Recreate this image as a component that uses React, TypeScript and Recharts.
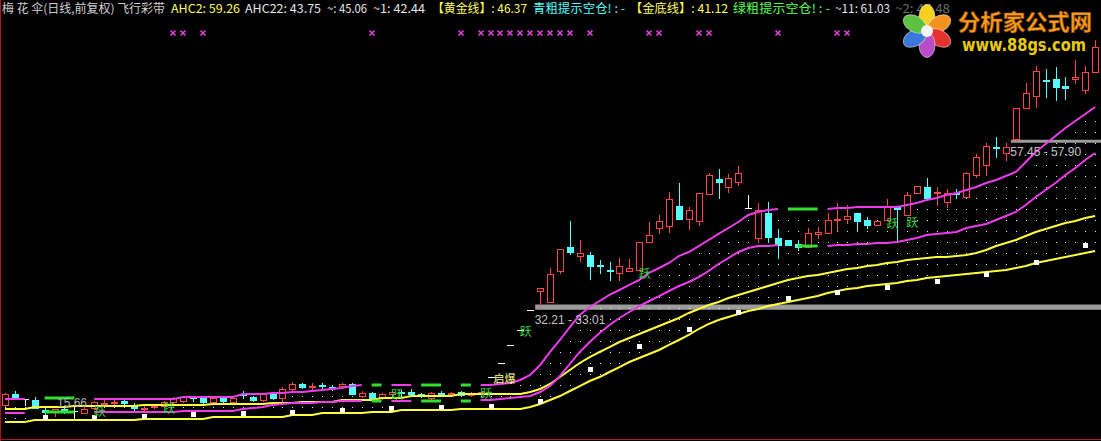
import React from 'react';
import { ComposedChart, XAxis, YAxis, Bar, Line, ReferenceArea } from 'recharts';

// ---------- data ----------
const OPEN = [
  17.84, 19.51, 18.75, 18.60, 17.09, 16.79, 17.24, 16.94, 16.64, 17.39,
  17.99, 18.15, 18.45, 17.69, 17.24, 17.54, 17.69, 18.30, 18.45, 19.05,
  18.90, 18.30, 18.90, 18.30, 19.51, 19.05, 18.60, 19.51, 18.90, 20.26,
  21.02, 20.56, 20.87, 20.56, 20.71, 21.02, 19.20, 19.66, 18.90, 19.51,
  19.81, 19.81, 19.51, 18.90, 19.66, 19.51, 19.81, 19.36, 19.74, 22.07,
  24.19, 26.91, 29.17, 32.21, 35.06, 33.40, 38.08, 41.70, 40.34, 40.50,
  38.99, 38.23, 37.78, 38.08, 38.23, 42.46, 44.57, 44.87, 47.89, 45.93,
  45.63, 49.71, 51.97, 50.76, 51.52, 47.59, 43.06, 46.84, 43.06, 42.76,
  42.16, 41.70, 43.67, 43.82, 45.78, 45.93, 46.84, 45.78, 45.03, 45.78,
  47.89, 46.54, 49.86, 50.76, 49.86, 48.50, 49.86, 49.25, 52.58, 54.09,
  56.80, 55.90, 58.01, 62.69, 64.50, 66.92, 67.07, 66.01, 67.07, 65.41,
  68.13,
];
const HIGH = [
  19.66, 19.96, 18.75, 19.05, 17.54, 17.24, 17.54, 17.54, 17.69, 18.45,
  18.60, 18.60, 18.75, 18.15, 17.69, 17.84, 18.45, 19.05, 19.20, 19.05,
  19.05, 19.05, 19.20, 19.05, 19.96, 19.20, 19.66, 19.81, 20.56, 21.32,
  21.17, 21.17, 21.17, 20.87, 21.17, 21.17, 19.96, 19.81, 19.66, 19.96,
  20.11, 20.26, 19.66, 19.81, 19.96, 19.81, 19.96, 19.81, 19.81, 22.07,
  24.19, 26.91, 29.17, 32.21, 35.51, 38.53, 41.40, 45.63, 42.76, 40.95,
  39.74, 39.44, 40.04, 39.89, 42.46, 45.48, 46.54, 50.01, 51.37, 47.74,
  49.86, 52.88, 53.48, 52.73, 53.93, 49.56, 48.35, 48.50, 44.42, 42.76,
  42.76, 44.57, 44.72, 46.84, 48.35, 48.05, 46.84, 46.23, 45.63, 48.95,
  47.89, 50.01, 50.91, 52.12, 50.76, 50.46, 50.46, 53.03, 55.75, 57.41,
  58.31, 57.45, 62.69, 66.47, 69.03, 68.58, 68.88, 67.37, 69.94, 69.03,
  72.96,
];
const LOW = [
  17.69, 18.75, 17.84, 17.39, 16.49, 16.18, 16.64, 15.66, 16.64, 17.24,
  17.69, 17.69, 17.84, 17.09, 17.09, 17.39, 17.54, 18.15, 18.30, 18.45,
  18.15, 18.15, 18.30, 18.15, 18.90, 18.45, 18.45, 18.75, 18.30, 20.11,
  20.41, 20.26, 20.41, 20.11, 20.56, 19.51, 19.05, 18.75, 18.75, 19.36,
  19.36, 19.36, 19.05, 18.75, 19.36, 19.36, 19.20, 19.20, 19.74, 22.07,
  24.19, 26.91, 29.17, 32.21, 33.01, 33.40, 37.78, 40.65, 39.59, 36.87,
  37.78, 36.72, 36.72, 38.08, 38.23, 42.46, 43.82, 43.97, 45.93, 44.42,
  45.03, 49.71, 49.10, 50.01, 51.07, 47.59, 42.46, 42.46, 40.04, 42.01,
  41.25, 41.70, 43.06, 43.82, 44.27, 45.33, 44.12, 44.57, 45.03, 45.78,
  42.76, 46.54, 49.86, 49.10, 48.05, 47.74, 49.10, 49.25, 52.27, 52.58,
  55.29, 54.84, 57.90, 62.69, 62.84, 64.35, 63.90, 64.05, 66.47, 64.96,
  68.13,
];
const CLOSE = [
  19.51, 18.90, 18.75, 17.39, 16.79, 17.24, 16.79, 16.94, 17.24, 18.30,
  18.15, 18.30, 18.15, 17.39, 17.39, 17.69, 18.30, 18.90, 19.05, 18.90,
  18.30, 18.90, 18.45, 18.90, 19.36, 18.60, 19.51, 18.90, 20.26, 21.02,
  20.56, 20.71, 20.71, 20.41, 21.02, 19.51, 19.66, 18.75, 19.51, 19.81,
  19.66, 19.51, 19.20, 19.66, 19.51, 19.66, 19.36, 19.66, 19.81, 22.07,
  24.19, 26.91, 29.17, 32.21, 35.51, 37.63, 41.40, 40.95, 40.80, 38.83,
  38.83, 38.08, 38.83, 38.53, 42.46, 43.52, 45.63, 48.95, 45.93, 47.29,
  49.86, 52.58, 51.52, 52.12, 52.88, 47.59, 47.29, 43.21, 42.01, 42.01,
  41.70, 43.82, 43.97, 45.78, 45.93, 46.38, 45.63, 45.03, 45.63, 47.74,
  47.44, 49.56, 50.91, 49.10, 50.01, 49.86, 49.71, 52.88, 55.29, 56.95,
  56.65, 56.80, 62.69, 64.96, 68.28, 66.77, 65.86, 65.71, 67.37, 68.13,
  71.90,
];

// magenta band (upper / lower); null where the line is not drawn
const BAND_UP = [
  18.75, 18.75, 18.75, null, null, null, null, null, null, 18.75,
  18.75, 18.75, 18.75, 18.75, 18.75, 18.75, 18.75, 18.75, 19.05, 19.05,
  19.05, 19.05, 19.05, 19.05, 19.51, 19.51, 19.51, 19.66, 19.66, 19.81,
  19.81, 19.96, 20.11, 20.26, 20.41, 20.71, 20.87, null, null, 20.87,
  20.87, 20.87, null, null, null, null, null, null, 20.87, 20.87,
  21.02, 21.17, 21.62, 22.38, 23.89, 25.85, 27.66, 29.62, 31.44, 32.64,
  33.55, 34.46, 35.21, 35.97, 36.72, 37.78, 38.53, 39.29, 40.34, 40.95,
  41.85, 42.76, 43.67, 44.57, 45.48, 46.54, 46.99, 47.29, 47.44, null,
  null, null, null, 47.44, 47.59, 47.59, 47.74, 47.74, 47.74, 47.74,
  47.74, 48.05, 48.35, 48.80, 49.10, 49.56, 49.86, 50.31, 50.76, 51.37,
  51.82, 52.42, 53.03, 54.54, 56.05, 57.26, 58.46, 59.67, 60.73, 61.79,
  62.84,
];
const BAND_DN = [
  16.64, 16.64, 16.64, null, null, null, null, null, null, 16.79,
  16.79, 16.79, 16.79, 16.79, 16.79, 16.79, 16.79, 16.79, 16.94, 16.94,
  16.94, 16.94, 16.94, 16.94, 17.24, 17.39, 17.54, 17.84, 17.99, 18.15,
  18.15, 18.15, 18.30, 18.30, 18.45, 18.45, 18.45, null, null, 18.45,
  18.45, 18.45, null, null, null, null, null, null, 18.60, 18.60,
  18.75, 18.90, 19.05, 19.20, 19.81, 20.71, 22.22, 24.04, 25.85, 27.36,
  28.72, 29.93, 30.98, 31.89, 32.79, 33.55, 34.30, 35.06, 35.81, 36.42,
  37.17, 38.08, 39.14, 40.04, 40.95, 41.55, 41.85, 41.85, 42.01, null,
  null, null, null, 41.85, 42.01, 42.01, 42.16, 42.16, 42.31, 42.31,
  42.46, 42.76, 43.06, 43.52, 43.67, 43.82, 43.97, 44.57, 44.87, 45.18,
  45.78, 46.38, 46.99, 48.05, 49.25, 50.31, 51.37, 52.58, 53.63, 54.84,
  55.90,
];
// yellow band (upper / lower)
const GOLD_UP = [
  17.24, 17.24, 17.24, 17.54, 17.54, 17.54, 17.54, 17.69, 17.69, 17.69,
  17.69, 17.69, 17.69, 17.69, 17.84, 17.84, 17.84, 17.84, 17.84, 17.84,
  17.84, 17.99, 17.99, 17.99, 17.99, 17.99, 17.99, 18.15, 18.15, 18.15,
  18.30, 18.30, 18.30, 18.30, 18.60, 18.60, 18.60, 18.60, 18.90, 18.90,
  18.90, 19.20, 19.20, 19.20, 19.20, 19.20, 19.51, 19.51, 19.51, 19.51,
  19.51, 19.51, 19.51, 19.81, 20.26, 21.02, 22.07, 23.13, 24.19, 25.09,
  25.85, 26.60, 27.36, 27.96, 28.57, 29.17, 29.77, 30.38, 30.98, 31.74,
  32.34, 32.95, 33.40, 34.00, 34.46, 34.91, 35.36, 35.81, 36.27, 36.72,
  37.02, 37.32, 37.48, 37.78, 38.08, 38.38, 38.53, 38.83, 38.99, 39.29,
  39.44, 39.74, 39.89, 40.04, 40.19, 40.19, 40.34, 40.50, 40.80, 41.25,
  41.85, 42.31, 42.76, 43.36, 43.97, 44.42, 44.87, 45.33, 45.63, 46.08,
  46.38,
];
const GOLD_DN = [
  15.28, 15.28, 15.28, 15.58, 15.58, 15.58, 15.58, 15.58, 15.58, 15.58,
  15.58, 15.58, 15.58, 15.58, 15.73, 15.73, 15.73, 15.73, 15.73, 15.73,
  15.73, 16.03, 16.03, 16.03, 16.03, 16.03, 16.03, 16.03, 16.03, 16.33,
  16.33, 16.33, 16.64, 16.64, 16.64, 16.64, 16.64, 16.79, 16.79, 16.79,
  17.09, 17.09, 17.09, 17.09, 17.09, 17.09, 17.24, 17.24, 17.24, 17.24,
  17.24, 17.24, 17.24, 17.54, 17.99, 18.60, 19.20, 19.96, 20.71, 21.47,
  22.07, 22.83, 23.58, 24.34, 24.94, 25.55, 26.15, 26.91, 27.66, 28.42,
  29.32, 30.08, 30.68, 31.13, 31.59, 32.04, 32.34, 32.79, 33.10, 33.40,
  33.70, 34.00, 34.30, 34.76, 35.06, 35.36, 35.51, 35.81, 35.97, 36.12,
  36.27, 36.57, 36.72, 37.02, 37.17, 37.32, 37.48, 37.63, 37.78, 37.93,
  38.08, 38.23, 38.53, 38.83, 39.29, 39.59, 39.89, 40.19, 40.50, 40.80,
  41.10,
];
// thick green warning segments [index, value]
const WARN_UP: [number, number][] = [
  [4, 18.90], [5, 18.90], [6, 18.90], [7, 18.90],
  [37, 20.87], [38, 20.87], [42, 20.87], [43, 20.87], [44, 20.87], [46, 20.87], [47, 20.87],
  [79, 47.44], [80, 47.44], [81, 47.44], [82, 47.44],
];
const WARN_DN: [number, number][] = [
  [4, 16.79], [5, 16.79], [6, 16.79], [7, 16.79],
  [37, 18.45], [38, 18.45], [42, 18.45], [43, 18.45], [44, 18.45], [46, 18.45], [47, 18.45],
  [80, 41.85], [81, 41.85], [82, 41.85],
];
// white square markers [index, value]
const SQUARES: [number, number][] = [
  [4, 16.03], [9, 16.03], [14, 16.18], [19, 16.49], [24, 16.64], [29, 16.79], [34, 17.09],
  [39, 17.39], [44, 17.54], [49, 17.69], [54, 18.45], [59, 23.28], [64, 26.75], [69, 29.32],
  [74, 31.89], [79, 34.00], [84, 34.91], [89, 35.66], [94, 36.57], [99, 37.63], [104, 39.44], [109, 42.01],
];
// magenta "x" signals along the top
const CROSS_DAYS = [17, 18, 20, 37, 46, 48, 49, 50, 51, 52, 53, 54, 55, 56, 57, 59, 65, 66, 70, 71, 78, 84, 85];
const CROSS_LEVEL = 74.02;
// text tags on the chart
const TAGS = [
  { i: 5, v: 18.15, t: '15.66', kind: 'num' },
  { i: 9, v: 17.09, t: '跃', kind: 'jump' },
  { i: 16, v: 17.54, t: '跃', kind: 'jump' },
  { i: 39, v: 19.51, t: '跃', kind: 'jump' },
  { i: 48, v: 19.66, t: '跃', kind: 'jump' },
  { i: 49, v: 21.92, t: '启爆', kind: 'fire' },
  { i: 52, v: 29.17, t: '跃', kind: 'jump' },
  { i: 54, v: 30.68, t: '32.21 - 33.01', kind: 'gap' },
  { i: 64, v: 37.78, t: '跃', kind: 'jump' },
  { i: 89, v: 45.33, t: '跃', kind: 'jump' },
  { i: 91, v: 45.48, t: '跃', kind: 'jump' },
  { i: 102, v: 56.05, t: '57.45 - 57.90', kind: 'gap' },
];
// unfilled price gaps
const GAPS = [
  { from: 54, lo: 32.21, hi: 33.01 },
  { from: 102, lo: 57.45, hi: 57.9 },
];
const Y_DOMAIN: [number, number] = [12.409, 79];
const SLOTS = 112;

// ---------- build the table ----------
type Row = { [k: string]: any };
const rows: Row[] = [];
let lastTop: number | null = null;
for (let i = 0; i < SLOTS; i++) {
  const has = i < OPEN.length;
  const r: Row = {
    i,
    o: has ? OPEN[i] : null,
    h: has ? HIGH[i] : null,
    l: has ? LOW[i] : null,
    c: has ? CLOSE[i] : null,
    mu: has ? BAND_UP[i] : null,
    ml: has ? BAND_DN[i] : null,
    yu: has ? GOLD_UP[i] : null,
    yl: has ? GOLD_DN[i] : null,
    wu: null, wd: null, sq: null, xm: null, tagV: null, tag: null,
  };
  rows.push(r);
}
WARN_UP.forEach(([i, v]) => (rows[i].wu = v));
WARN_DN.forEach(([i, v]) => (rows[i].wd = v));
SQUARES.forEach(([i, v]) => (rows[i].sq = v));
CROSS_DAYS.forEach((i) => (rows[i].xm = CROSS_LEVEL));
TAGS.forEach((tg) => { rows[tg.i].tagV = tg.v; rows[tg.i].tag = tg; });
rows.forEach((r) => {
  if (r.yl == null) { r.dotTop = null; return; }
  const top = r.mu ?? r.wu ?? lastTop;
  if (r.mu != null) lastTop = r.mu;
  r.dotTop = top;
});

// ---------- colours ----------
const UP = '#ff4545';
const DOWN = '#54ffff';
const FLAT = '#ffffff';
const MAGENTA = '#ec3cec';
const YELLOW = '#ffff3c';
const GREEN = '#2fe02f';
const candleColor = (d: Row) => (d.c > d.o ? UP : d.c < d.o ? DOWN : FLAT);

// ---------- shapes ----------
const DotColumn = (p: any) => {
  if (p.payload?.dotTop == null || !isFinite(p.y)) return <g />;
  const cx = Math.round(p.x + p.width / 2);
  const top = Math.min(p.y, p.y + p.height);
  const bot = Math.max(p.y, p.y + p.height);
  const dots = [];
  for (let yy = Math.ceil((top + 4) / 11) * 11; yy < bot - 3; yy += 11) {
    dots.push(<rect key={yy} x={cx} y={yy} width={1} height={1} fill="#ececd0" />);
  }
  return <g>{dots}</g>;
};

const Wick = (p: any) => {
  const d = p.payload;
  if (!d || d.h == null || !isFinite(p.y)) return <g />;
  const cx = Math.round(p.x + p.width / 2) + 0.5;
  const top = Math.min(p.y, p.y + p.height);
  const bot = Math.max(p.y, p.y + p.height);
  if (bot - top < 0.5) return <g />;
  return <line x1={cx} x2={cx} y1={Math.round(top)} y2={Math.round(bot) + 1} stroke={candleColor(d)} strokeWidth={1} shapeRendering="crispEdges" />;
};

const Body = (p: any) => {
  const d = p.payload;
  if (!d || d.o == null || !isFinite(p.y)) return <g />;
  const cx = Math.round(p.x + p.width / 2);
  const top = Math.round(Math.min(p.y, p.y + p.height));
  const h = Math.round(Math.max(p.y, p.y + p.height)) - top;
  const col = candleColor(d);
  if (h < 1) {
    return <line x1={cx - 3} x2={cx + 4} y1={top + 0.5} y2={top + 0.5} stroke={col} strokeWidth={1} shapeRendering="crispEdges" />;
  }
  if (d.c > d.o) {
    return <rect x={cx - 2.5} y={top + 0.5} width={6} height={h} fill="#000" stroke={col} strokeWidth={1} shapeRendering="crispEdges" />;
  }
  return <rect x={cx - 3} y={top} width={7} height={h + 1} fill={col} shapeRendering="crispEdges" />;
};

const SquareDot = (p: any) => {
  if (p.value == null || p.cy == null || !isFinite(p.cy)) return <g key={`sq${p.index}`} />;
  return <rect key={`sq${p.index}`} x={Math.round(p.cx) - 2} y={Math.round(p.cy) - 2} width={5} height={5} fill="#ffffff" />;
};

const CrossDot = (p: any) => {
  if (p.value == null || p.cy == null || !isFinite(p.cy)) return <g key={`xm${p.index}`} />;
  const x = Math.round(p.cx), y = Math.round(p.cy);
  return (
    <g key={`xm${p.index}`} stroke="#e040e0" strokeWidth={1.6}>
      <line x1={x - 2.5} y1={y - 2.5} x2={x + 2.5} y2={y + 2.5} />
      <line x1={x - 2.5} y1={y + 2.5} x2={x + 2.5} y2={y - 2.5} />
    </g>
  );
};

const TagDot = (p: any) => {
  const tg = p.payload?.tag;
  if (!tg || p.cy == null || !isFinite(p.cy)) return <g key={`tg${p.index}`} />;
  const base = { key: `tg${p.index}`, y: p.cy, dominantBaseline: 'central' as const };
  if (tg.kind === 'jump') {
    return <text {...base} x={p.cx - 0.5} fill="#3cd23c" fontSize={12} fontFamily="'Noto Sans CJK SC', sans-serif">{tg.t}</text>;
  }
  if (tg.kind === 'fire') {
    return <text {...base} x={p.cx + 3} fill="#ffff8c" fontSize={11} fontFamily="'Noto Sans CJK SC', sans-serif">{tg.t}</text>;
  }
  if (tg.kind === 'gap') {
    return <text {...base} x={p.cx - 5.5} fill="#c4c4c4" fontSize={12} fontFamily="'Liberation Sans', Arial, sans-serif">{tg.t}</text>;
  }
  return <text {...base} x={p.cx + 2.5} fill="#b0b0b0" fontSize={12} fontFamily="'Liberation Sans', Arial, sans-serif">{tg.t}</text>;
};

// ---------- header ----------
const HEADER = [
  { t: '梅 花 伞(日线,前复权) 飞行彩带', x: 2, w: 163, c: '#d2d2d2' },
  { t: 'AHC2: 59.26', x: 171, w: 69, c: '#ffff55' },
  { t: 'AHC22: 43.75', x: 245, w: 76, c: '#e6e6e6' },
  { t: '~: 45.06', x: 327, w: 40, c: '#e6e6e6' },
  { t: '~1: 42.44', x: 373, w: 52, c: '#e6e6e6' },
  { t: '【黄金线】: 46.37', x: 432, w: 95, c: '#ffff55' },
  { t: '青粗提示空仓! : -', x: 533, w: 92, c: '#55ffff' },
  { t: '【金底线】: 41.12', x: 630, w: 98, c: '#ffff55' },
  { t: '绿粗提示空仓! : -', x: 733, w: 97, c: '#55ff55' },
  { t: '~11: 61.03', x: 835, w: 55, c: '#e6e6e6' },
  { t: '~2: 47.48', x: 895, w: 55, c: '#6c6c6c' },
];
const PETALS = ['#f6d21e', '#f5911e', '#e6322c', '#b84cc8', '#3c78dc', '#5cc040'];

export default function App() {
  return (
    <div style={{ position: 'fixed', left: 0, top: 0, width: 1101, height: 441, overflow: 'hidden', background: '#000' }}>
      <ComposedChart width={1110} height={441} data={rows} margin={{ top: 0, right: 0, bottom: 0, left: 0 }}>
        <XAxis xAxisId="a" dataKey="i" hide />
        <XAxis xAxisId="b" dataKey="i" hide />
        <XAxis xAxisId="c" dataKey="i" hide />
        <YAxis type="number" domain={Y_DOMAIN} hide allowDataOverflow />
        {GAPS.map((g) => (
          <ReferenceArea key={g.from} xAxisId="a" x1={g.from} y1={g.lo} y2={g.hi} fill="#9c9c9c" fillOpacity={1} stroke="none" />
        ))}
        <Bar xAxisId="a" dataKey={(d: Row) => (d.dotTop == null ? null : [d.yl, d.dotTop])} shape={DotColumn} isAnimationActive={false} />
        <Line xAxisId="a" dataKey="yl" stroke={YELLOW} strokeWidth={2} dot={false} activeDot={false} isAnimationActive={false} />
        <Line xAxisId="a" dataKey="yu" stroke={YELLOW} strokeWidth={2} dot={false} activeDot={false} isAnimationActive={false} />
        <Line xAxisId="a" dataKey="ml" stroke={MAGENTA} strokeWidth={2} dot={false} activeDot={false} isAnimationActive={false} />
        <Line xAxisId="a" dataKey="mu" stroke={MAGENTA} strokeWidth={2} dot={false} activeDot={false} isAnimationActive={false} />
        <Line xAxisId="a" dataKey="wu" stroke={GREEN} strokeWidth={3} dot={false} activeDot={false} isAnimationActive={false} />
        <Line xAxisId="a" dataKey="wd" stroke={GREEN} strokeWidth={3} dot={false} activeDot={false} isAnimationActive={false} />
        <Line xAxisId="a" dataKey="sq" stroke="none" dot={SquareDot} activeDot={false} isAnimationActive={false} />
        <Bar xAxisId="b" dataKey={(d: Row) => (d.h == null ? null : [d.l, d.h])} shape={Wick} isAnimationActive={false} />
        <Bar xAxisId="c" dataKey={(d: Row) => (d.o == null ? null : [Math.min(d.o, d.c), Math.max(d.o, d.c)])} shape={Body} isAnimationActive={false} />
        <Line xAxisId="a" dataKey="tagV" stroke="none" dot={TagDot} activeDot={false} isAnimationActive={false} />
        <Line xAxisId="a" dataKey="xm" stroke="none" dot={CrossDot} activeDot={false} isAnimationActive={false} />
      </ComposedChart>
      <svg width={1101} height={441} style={{ position: 'absolute', left: 0, top: 0, pointerEvents: 'none' }}>
        {HEADER.map((h) => (
          <text key={h.t} x={h.x} y={13} fill={h.c} fontSize={12} fontFamily="'Noto Sans CJK SC', sans-serif" textLength={h.w} lengthAdjust="spacingAndGlyphs">
            {h.t}
          </text>
        ))}
        <g transform="translate(927,31)">
          {PETALS.map((c, k) => (
            <ellipse key={c} cx={0} cy={-14} rx={8} ry={12.5} fill={c} stroke="#ffffff" strokeOpacity={0.5} strokeWidth={1} transform={`rotate(${k * 60})`} />
          ))}
          <circle cx={0} cy={0} r={6} fill="#f4f4f4" />
        </g>
        <text x={958} y={30} fill="#f7a01c" stroke="#9a4a08" strokeWidth={0.6} fontSize={22} fontWeight="bold" fontFamily="'Noto Sans CJK SC', sans-serif" textLength={134} lengthAdjust="spacingAndGlyphs">分析家公式网</text>
        <text x={962} y={51} fill="#e8cc10" fontSize={17} fontWeight="bold" fontFamily="'DejaVu Sans', sans-serif" textLength={124} lengthAdjust="spacingAndGlyphs">www.88gs.com</text>
      </svg>
      <div style={{ position: 'absolute', left: 0, top: 0, width: 1, height: 441, background: '#b01818' }} />
      <div style={{ position: 'absolute', left: 0, top: 439, width: 1101, height: 1, background: '#b01818' }} />
    </div>
  );
}
